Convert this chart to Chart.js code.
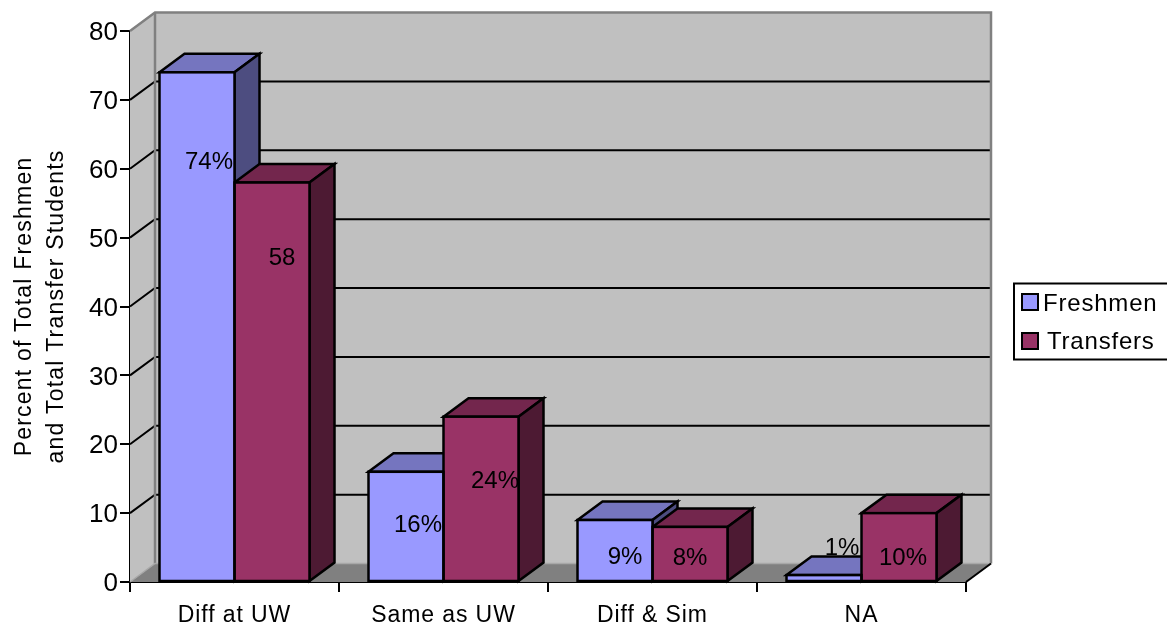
<!DOCTYPE html>
<html>
<head>
<meta charset="utf-8">
<style>html,body{margin:0;padding:0;background:#fff}canvas{display:block}</style>
<script src="https://cdn.jsdelivr.net/npm/chart.js@4"></script>
</head>
<body>
<canvas id="c" width="1167" height="622"></canvas>
<script>
// Chart values
const categories = ['Diff at UW', 'Same as UW', 'Diff & Sim', 'NA'];
const freshmen = [74, 16, 9, 1];
const transfers = [58, 24, 8, 10];
const freshmenLabels = ['74%', '16%', '9%', '1%'];
const transfersLabels = ['58', '24%', '8%', '10%'];
const axisTitle = ['Percent of Total Freshmen', 'and Total Transfer Students'];

// Label placement relative to the top centre of each bar's front face
const freshmenLabelShift = [[12, 90], [12, 54], [10, 37], [18, -27]];
const transfersLabelShift = [[10, 76], [14, 65], [0, 31], [4, 45]];

// Oblique projection of the depth axis
const DEPTH_X = 25, DEPTH_Y = 18.5;
const FONT = '"Liberation Sans", Arial, sans-serif';
const WALL = '#C0C0C0', FLOOR = '#808080', EDGE = '#808080';
const OUTLINE = 2.5;
const FACES = [
  { front: '#9999FF', top: '#7575BF', side: '#4D4D80' },
  { front: '#993366', top: '#73264D', side: '#4D1A33' }
];

function poly(ctx, pts, fill, stroke, width) {
  ctx.beginPath();
  pts.forEach((p, i) => i ? ctx.lineTo(p[0], p[1]) : ctx.moveTo(p[0], p[1]));
  ctx.closePath();
  if (fill) { ctx.fillStyle = fill; ctx.fill(); }
  if (stroke) { ctx.strokeStyle = stroke; ctx.lineWidth = width; ctx.lineJoin = 'miter'; ctx.stroke(); }
}

// Adjust glyph spacing and vertical offset of one scale drawing method
function tuned(scale, method, px, dy) {
  if (scale['_' + method]) return;
  const original = scale[method];
  scale['_' + method] = true;
  scale[method] = function () {
    const ctx = this.ctx;
    ctx.save();
    ctx.letterSpacing = px + 'px';
    ctx.translate(0, dy);
    original.apply(this, arguments);
    ctx.restore();
  };
}

// Walls, floor and the back-wall gridlines
const box3d = {
  id: 'box3d',
  beforeDatasetsDraw(chart) {
    const { ctx, chartArea: a, scales: { y } } = chart;
    const bx = DEPTH_X, by = DEPTH_Y;
    ctx.save();
    poly(ctx, [[a.left, a.top], [a.left + bx, a.top - by], [a.left + bx, a.bottom - by], [a.left, a.bottom]], WALL);
    poly(ctx, [[a.left + bx, a.top - by], [a.right + bx, a.top - by], [a.right + bx, a.bottom - by], [a.left + bx, a.bottom - by]], WALL);
    poly(ctx, [[a.left, a.bottom], [a.left + bx, a.bottom - by], [a.right + bx, a.bottom - by], [a.right, a.bottom]], FLOOR);

    ctx.strokeStyle = '#000';
    ctx.lineWidth = 2;
    y.ticks.forEach(t => {
      if (t.value === 0 || t.value === y.max) return;
      const py = y.getPixelForValue(t.value);
      ctx.beginPath();
      ctx.moveTo(a.left, py);
      ctx.lineTo(a.left + bx, py - by);
      ctx.lineTo(a.right + bx, py - by);
      ctx.stroke();
    });

    ctx.strokeStyle = EDGE;
    ctx.lineWidth = 2.5;
    ctx.beginPath();
    ctx.moveTo(a.left, a.top);
    ctx.lineTo(a.left + bx, a.top - by);
    ctx.lineTo(a.right + bx, a.top - by);
    ctx.lineTo(a.right + bx, a.bottom - by);
    ctx.moveTo(a.left + bx, a.top - by);
    ctx.lineTo(a.left + bx, a.bottom - by);
    ctx.stroke();

    ctx.strokeStyle = '#A8A8A8';
    ctx.lineWidth = 1.5;
    ctx.beginPath();
    ctx.moveTo(a.left, a.bottom);
    ctx.lineTo(a.left + bx, a.bottom - by);
    ctx.lineTo(a.right + bx, a.bottom - by);
    ctx.stroke();

    ctx.strokeStyle = '#000';
    ctx.lineWidth = 2;
    ctx.beginPath();
    ctx.moveTo(a.right, a.bottom);
    ctx.lineTo(a.right + bx, a.bottom - by);
    ctx.stroke();

    // Top and side faces; the library fills the front faces over them
    chart.data.labels.forEach((_, i) => {
      chart.data.datasets.forEach((_, d) => {
        const bar = chart.getDatasetMeta(d).data[i];
        const l = bar.x - bar.width / 2, r = bar.x + bar.width / 2, t = bar.y, b = bar.base;
        poly(ctx, [[l, t], [l + bx, t - by], [r + bx, t - by], [r, t]], FACES[d].top, '#000', OUTLINE);
        poly(ctx, [[r, t], [r + bx, t - by], [r + bx, b - by], [r, b]], FACES[d].side, '#000', OUTLINE);
      });
    });
    ctx.restore();
  },
  afterDatasetsDraw(chart) {
    const { ctx } = chart;
    const sets = [[freshmenLabels, freshmenLabelShift], [transfersLabels, transfersLabelShift]];
    ctx.save();

    // Front-face outlines centred on the bar edges, so neighbouring bars share one line
    ctx.strokeStyle = '#000';
    ctx.lineWidth = OUTLINE;
    chart.data.datasets.forEach((_, d) => {
      chart.getDatasetMeta(d).data.forEach(bar => {
        ctx.strokeRect(bar.x - bar.width / 2, bar.y, bar.width, bar.base - bar.y);
      });
    });

    ctx.fillStyle = '#000';
    ctx.font = '24px ' + FONT;
    ctx.textAlign = 'center';
    ctx.textBaseline = 'middle';
    sets.forEach(([texts, shifts], d) => {
      chart.getDatasetMeta(d).data.forEach((bar, i) => {
        ctx.fillText(texts[i], bar.x + shifts[i][0], bar.y + shifts[i][1]);
      });
    });
    ctx.restore();
  },
  // Boxed legend to the right of the plot
  afterDraw(chart) {
    const { ctx } = chart;
    ctx.save();
    ctx.strokeStyle = '#000';
    ctx.lineWidth = 2;
    ctx.strokeRect(1014, 283.5, 160, 76);
    ctx.font = '24px ' + FONT;
    ctx.letterSpacing = '0.8px';
    ctx.textBaseline = 'alphabetic';
    const rows = [{ box: 294, text: 1043, base: 311 }, { box: 333, text: 1047, base: 349 }];
    chart.data.datasets.forEach((ds, i) => {
      ctx.fillStyle = ds.backgroundColor;
      ctx.fillRect(1022, rows[i].box, 16, 16);
      ctx.strokeRect(1022, rows[i].box, 16, 16);
      ctx.fillStyle = '#000';
      ctx.fillText(ds.label, rows[i].text, rows[i].base);
    });
    ctx.restore();
  }
};

new Chart(document.getElementById('c'), {
  type: 'bar',
  plugins: [box3d],
  data: {
    labels: categories,
    datasets: [
      { label: 'Freshmen', data: freshmen, backgroundColor: FACES[0].front, borderWidth: 0 },
      { label: 'Transfers', data: transfers, backgroundColor: FACES[1].front, borderWidth: 0 }
    ]
  },
  options: {
    responsive: false,
    animation: false,
    events: [],
    layout: { padding: { top: 31, right: 201, bottom: 0, left: 0 } },
    datasets: { bar: { barPercentage: 1, categoryPercentage: 0.7177 } },
    plugins: { legend: { display: false }, tooltip: { enabled: false }, title: { display: false } },
    scales: {
      x: {
        afterFit(s) { s.height = 40; tuned(s, 'drawLabels', 0.9, 0); },
        border: { color: '#000', width: 2 },
        grid: { drawOnChartArea: false, drawTicks: true, tickLength: 10, color: '#000', lineWidth: 2 },
        ticks: { color: '#000', padding: 10, maxRotation: 0, font: { family: FONT, size: 23 } }
      },
      y: {
        min: 0,
        max: 80,
        afterFit(s) { s.width = 130; tuned(s, 'drawTitle', 1.2, 0); tuned(s, 'drawLabels', 0, 2); },
        border: { color: '#000', width: 2 },
        grid: { drawOnChartArea: false, drawTicks: true, tickLength: 10, color: '#000', lineWidth: 2 },
        ticks: { stepSize: 10, color: '#000', padding: 2, font: { family: FONT, size: 26 } },
        title: {
          display: true,
          text: axisTitle,
          color: '#000',
          font: { family: FONT, size: 23, lineHeight: 1.39 },
          padding: { top: 9, bottom: 0 }
        }
      }
    }
  }
});
</script>
</body>
</html>
